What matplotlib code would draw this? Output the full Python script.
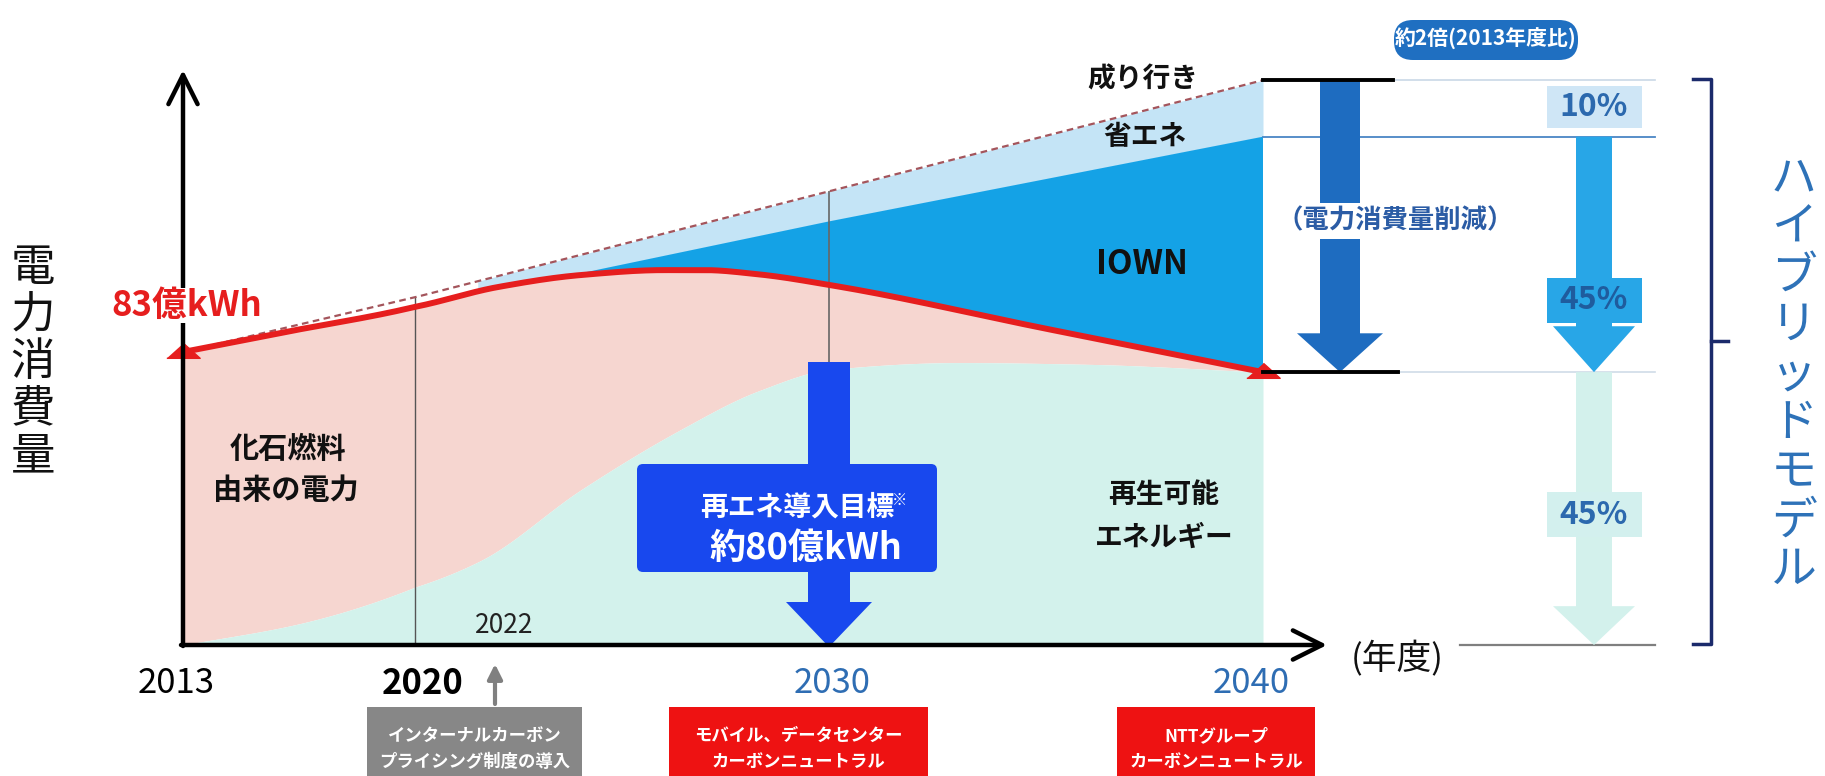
import numpy as np
import matplotlib
matplotlib.use("Agg")
import matplotlib.pyplot as plt
import matplotlib.transforms as mtransforms
from matplotlib.patches import FancyBboxPatch, Polygon, Rectangle

plt.rcParams["font.family"] = ["Noto Sans CJK JP", "DejaVu Sans"]

# fiscal years on the time axis and where each one sits across the figure (px)
tick_years = [2013, 2020, 2030, 2040]
tick_labels = ["2013", "2020", "2030", "2040"]
tick_px = [183, 415, 829, 1263]

# power consumption in 億kWh
bau_years = [2013, 2020, 2030, 2040]  # 成り行き
bau_values = [83, 98.5, 128.5, 160]
saving_years = [2013, 2020, 2030, 2040]  # 省エネ
saving_values = [83, 95.5, 120, 144]
actual_years = [2013, 2016, 2020, 2022, 2024, 2026, 2027, 2028.3, 2030, 2035, 2040]
actual_values = [83, 88.5, 95.8, 101.4, 104.8, 106.2, 106.2, 105, 102, 89.6, 77.3]
renew_years = [2013, 2016.5, 2020, 2021.6, 2024, 2026.4, 2028.3, 2030, 2033, 2036, 2040]
renew_values = [0, 6, 16.4, 24, 43.9, 60.9, 72, 78, 80, 79.5, 77.3]

shares = ["10%", "45%", "45%"]

PINK = "#F6D6D0"
MINT = "#D3F2EC"
SKY = "#C4E4F6"
IOWN = "#14A2E6"
RED = "#E61E1E"
NAVY_TXT = "#2C69AE"


def smooth(x, y, xs):
    # monotone cubic through the given points, only used for drawing
    x = np.asarray(x, float)
    y = np.asarray(y, float)
    h = np.diff(x)
    d = np.diff(y) / h
    m = np.zeros_like(y)
    m[0], m[-1] = d[0], d[-1]
    for k in range(1, len(y) - 1):
        if d[k - 1] * d[k] > 0:
            w1 = 2 * h[k] + h[k - 1]
            w2 = h[k] + 2 * h[k - 1]
            m[k] = (w1 + w2) / (w1 / d[k - 1] + w2 / d[k])
    i = np.clip(np.searchsorted(x, xs) - 1, 0, len(h) - 1)
    t = (xs - x[i]) / h[i]
    return ((2 * t**3 - 3 * t**2 + 1) * y[i] + (t**3 - 2 * t**2 + t) * h[i] * m[i]
            + (-2 * t**3 + 3 * t**2) * y[i + 1] + (t**3 - t**2) * h[i] * m[i + 1])


lead = (tick_px[1] - tick_px[0]) / (tick_years[1] - tick_years[0])
tail = (tick_px[-1] - tick_px[-2]) / (tick_years[-1] - tick_years[-2])
ext_years = [1990] + tick_years + [2080]
ext_px = [tick_px[0] - 23 * lead] + tick_px + [tick_px[-1] + 40 * tail]


def year_to_px(v):
    return np.interp(v, ext_years, ext_px)


def px_to_year(p):
    return np.interp(p, ext_px, ext_years)


W, H = 1825, 776
fig = plt.figure(figsize=(W / 100, H / 100), dpi=100)

ax = fig.add_axes([0, 0, 1, 1])
ax.patch.set_visible(False)
ax.set_xscale("function", functions=(year_to_px, px_to_year))
ax.set_xlim(px_to_year(0), px_to_year(W))
base_px, px_per_unit = 645, 3.53
ax.set_ylim(-(H - base_px) / px_per_unit, base_px / px_per_unit)
for s in ax.spines.values():
    s.set_visible(False)
ax.spines["bottom"].set_position(("data", 0))
ax.minorticks_off()
ax.set_yticks([])
ax.set_xticks(tick_years)
ax.set_xticklabels(tick_labels)
ax.tick_params(axis="x", length=0, pad=15, labelsize=25)
for lab, col, wt, dx in zip(ax.get_xticklabels(),
                            ["black", "black", "#2E6DB3", "#2E6DB3"],
                            ["normal", "bold", "normal", "normal"],
                            [-7, 8, 3, -12]):
    lab.set_color(col)
    lab.set_fontweight(wt)
    lab.set_transform(lab.get_transform()
                      + mtransforms.ScaledTranslation(dx / 100, 0, fig.dpi_scale_trans))

xs = np.linspace(2013, 2040, 800)
bau = np.interp(xs, bau_years, bau_values)
saving = np.interp(xs, saving_years, saving_values)
actual = smooth(actual_years, actual_values, xs)
renew = smooth(renew_years, renew_values, xs)

ax.fill_between(xs, np.maximum(saving, actual), bau, where=xs >= 2021.5,
                color=SKY, lw=0, zorder=1)
ax.fill_between(xs, actual, saving, where=saving > actual, interpolate=True,
                color=IOWN, lw=0, zorder=1)
ax.fill_between(xs, renew, actual, color=PINK, lw=0, zorder=1)
ax.fill_between(xs, 0, renew, color=MINT, lw=0, zorder=1.1)

ax.vlines(2020, 0, np.interp(2020, bau_years, bau_values), color="#555555", lw=1, zorder=2)
ax.vlines(2030, 80.2, np.interp(2030, bau_years, bau_values), color="#666666", lw=1.2, zorder=2)

ax.plot(xs, bau, ls=(0, (3, 2)), color="#A4555C", lw=1.6, zorder=2.5)
ax.plot(xs, actual, color=RED, lw=4.3, zorder=3, solid_capstyle="butt")
tri = [(-1, -0.35), (1, -0.35), (0, 0.55)]
ax.plot([actual_years[0], actual_years[-1]], [actual_values[0], actual_values[-1]],
        ls="none", marker=tri, ms=24, color=RED, zorder=4)
ax.text(2022.15, 5.6, "2022", ha="center", va="center", fontsize=19, color="#222222", zorder=3)

# overlay in pixel units for the annotations
ov = fig.add_axes([0, 0, 1, 1], zorder=5)
ov.set_xlim(0, W)
ov.set_ylim(H, 0)
ov.axis("off")
tr = mtransforms.blended_transform_factory(ov.transData, ax.transData)


def down_arrow(xc, y_top, y_head, y_tip, shaft_w, head_w, color, transform, z=3):
    pts = [(xc - shaft_w / 2, y_top), (xc + shaft_w / 2, y_top), (xc + shaft_w / 2, y_head),
           (xc + head_w / 2, y_head), (xc, y_tip), (xc - head_w / 2, y_head),
           (xc - shaft_w / 2, y_head)]
    ov.add_patch(Polygon(pts, closed=True, facecolor=color, edgecolor="none",
                         transform=transform, zorder=z))


# axes arrows
arrow_kw = dict(arrowstyle="->,head_length=0.7,head_width=0.35", lw=3.2, color="black",
                shrinkA=0, shrinkB=0, mutation_scale=30)
ov.annotate("", xy=(1327, base_px), xytext=(181, base_px), arrowprops=arrow_kw, zorder=4)
ov.annotate("", xy=(183, 70), xytext=(183, base_px + 1), arrowprops=arrow_kw, zorder=4)
ov.text(1397, 659, "(年度)", ha="center", va="center", fontsize=25, color="#111111")
ov.text(187, 305, "83億kWh", ha="center", va="center", fontsize=25, fontweight="bold",
        color=RED, zorder=6, bbox=dict(facecolor="white", edgecolor="none", pad=0))

# y label
for i, ch in enumerate("電力消費量"):
    ov.text(33, 268 + 47 * i, ch, ha="center", va="center", fontsize=32, color="#111111")

# area labels
bold = dict(ha="center", va="center", fontweight="bold", color="#111111")
ov.text(1143, 79, "成り行き", fontsize=20, **bold)
ov.text(1145, 137, "省エネ", fontsize=20, **bold)
ov.text(1142, 265, "IOWN", fontsize=24, **bold)
ov.text(288, 449, "化石燃料", fontsize=21, **bold)
ov.text(286, 490, "由来の電力", fontsize=21, **bold)
ov.text(1164, 495, "再生可能", fontsize=20, **bold)
ov.text(1164, 538, "エネルギー", fontsize=20, **bold)

# renewable target arrow at 2030
xc30 = year_to_px(2030)
RE_BLUE = "#1848EE"
down_arrow(xc30, 362, 602, 647, 42, 86, RE_BLUE, ov.transData, z=2)
ov.add_patch(FancyBboxPatch((637, 464), 300, 108, boxstyle="round,pad=0,rounding_size=6",
                            facecolor=RE_BLUE, edgecolor="none", zorder=2))
ov.text(797, 508, "再エネ導入目標", ha="center", va="center", fontsize=20,
        fontweight="bold", color="white", zorder=3)
ov.text(900, 500, "※", ha="center", va="center", fontsize=11, color="white", zorder=3)
ov.text(806, 548, "約80億kWh", ha="center", va="center", fontsize=26,
        fontweight="bold", color="white", zorder=3)

# gray marker for 2022
ov.annotate("", xy=(495, 664), xytext=(495, 704),
            arrowprops=dict(arrowstyle="-|>", color="#808080", lw=3, mutation_scale=22,
                            shrinkA=0, shrinkB=0))

# milestone boxes along the bottom
milestones = [
    (367, 215, "#878787", "インターナルカーボン", "プライシング制度の導入"),
    (669, 259, "#EE1212", "モバイル、データセンター", "カーボンニュートラル"),
    (1117, 198, "#EE1212", "NTTグループ", "カーボンニュートラル"),
]
for x0, w, col, l1, l2 in milestones:
    ov.add_patch(Rectangle((x0, 707), w, 80, facecolor=col, edgecolor="none", zorder=2))
    ov.text(x0 + w / 2, 736, l1, ha="center", va="center", fontsize=12.5,
            fontweight="bold", color="white", zorder=3)
    ov.text(x0 + w / 2, 762, l2, ha="center", va="center", fontsize=12.5,
            fontweight="bold", color="white", zorder=3)

# 2040 breakdown on the right
bau40, save40, act40 = bau_values[-1], saving_values[-1], actual_values[-1]
ov.plot([1263, 1393], [bau40, bau40], color="black", lw=2.8, transform=tr, zorder=4)
ov.plot([1263, 1398], [act40, act40], color="black", lw=2.8, transform=tr, zorder=4)
ov.plot([1393, 1655], [bau40, bau40], color="#C9D8E6", lw=1.2, transform=tr, zorder=1)
ov.plot([1263, 1655], [save40, save40], color="#4A86C5", lw=1.3, transform=tr, zorder=1)
ov.plot([1398, 1655], [act40, act40], color="#CFDCE7", lw=1.2, transform=tr, zorder=1)
ov.plot([1460, 1655], [0, 0], color="#7F7F7F", lw=1.6, transform=tr, zorder=1)

down_arrow(1340, bau40, act40 + 11, act40, 40, 86, "#1E6CC0", tr)
ov.add_patch(Rectangle((1316, 203), 48, 36, facecolor="white", edgecolor="none", zorder=4))
ov.text(1395, 221, "（電力消費量削減）", ha="center", va="center", fontsize=19,
        fontweight="bold", color="#2B5CA5", zorder=5)

down_arrow(1594, save40, act40 + 13, act40, 36, 82, "#28A6E7", tr)
down_arrow(1594, act40, 11, 0, 36, 82, "#D3F1EC", tr)
ov.add_patch(Rectangle((1547, 86), 95, 42, facecolor="#CFE6F6", edgecolor="none", zorder=4))
ov.add_patch(Rectangle((1547, 278), 95, 45, facecolor="#28A6E7", edgecolor="none", zorder=4))
ov.add_patch(Rectangle((1547, 492), 95, 45, facecolor="#D3F0EE", edgecolor="none", zorder=4))
for yc, txt, col in zip([107, 300, 515], shares, [NAVY_TXT, "#1F5C9E", NAVY_TXT]):
    ov.text(1594, yc, txt, ha="center", va="center", fontsize=23, fontweight="bold",
            color=col, zorder=5)

ov.add_patch(FancyBboxPatch((1394, 20), 184, 40, boxstyle="round,pad=0,rounding_size=19",
                            facecolor="#1F6FC1", edgecolor="none", zorder=4))
ov.text(1486, 39, "約2倍(2013年度比)", ha="center", va="center", fontsize=15,
        fontweight="bold", color="white", zorder=5)

# bracket and model name
ov.plot([1693, 1711, 1711, 1693], [79, 79, 644, 644], color="#1B2A6B", lw=2.5,
        solid_joinstyle="round", zorder=4)
ov.plot([1711, 1728], [341, 341], color="#1B2A6B", lw=2.5, zorder=4)
for i, ch in enumerate("ハイブリッドモデル"):
    ov.text(1794, 178 + 49 * i, ch, ha="center", va="center", fontsize=33, color="#2E72B8")

fig.savefig("out.png", dpi=100)
